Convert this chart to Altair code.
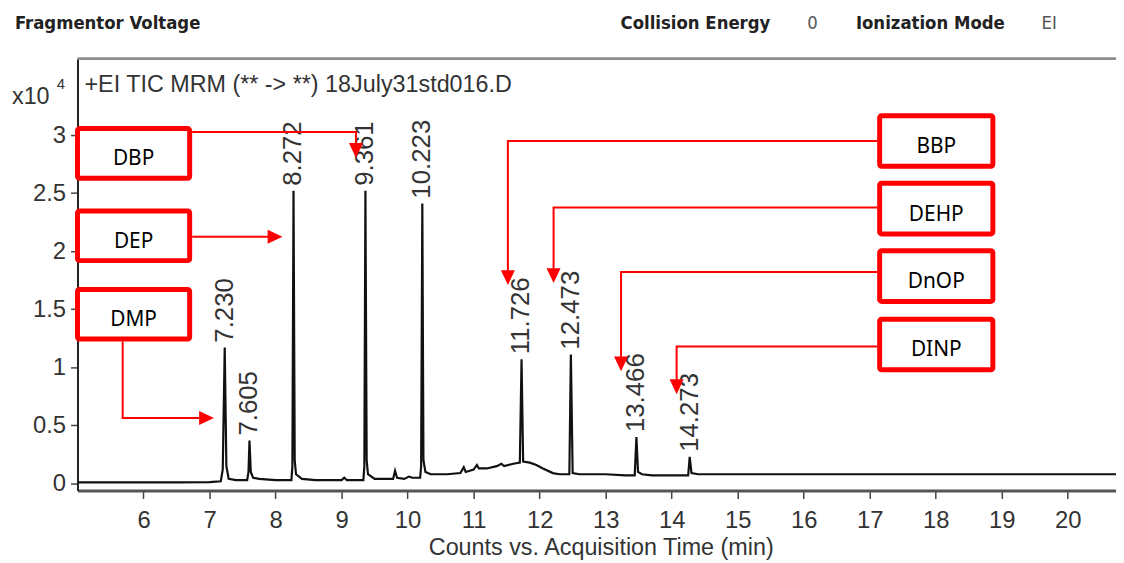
import altair as alt
import pandas as pd

# ---------------- data ----------------
# chromatogram trace: retention time (min) and counts (x10^4)
trace_time = [5.00, 5.50, 6.00, 6.50, 7.00, 7.17, 7.20, 7.23, 7.255, 7.29, 7.40, 7.57, 7.59,
              7.605, 7.625, 7.66, 7.75, 8.00, 8.24, 8.255, 8.272, 8.29, 8.31, 8.40, 8.60,
              9.00, 9.04, 9.08, 9.33, 9.345, 9.361, 9.38, 9.40, 9.50, 9.78, 9.81, 9.84,
              9.95, 10.02, 10.07, 10.19, 10.205, 10.223, 10.24, 10.27, 10.35, 10.60, 10.80,
              10.85, 10.88, 11.00, 11.05, 11.08, 11.20, 11.35, 11.42, 11.46, 11.60, 11.70,
              11.726, 11.75, 11.85, 11.95, 12.05, 12.20, 12.30, 12.45, 12.473, 12.50, 12.60,
              13.00, 13.30, 13.44, 13.466, 13.49, 13.55, 13.70, 14.00, 14.25, 14.273, 14.30,
              14.40, 15.00, 16.00, 17.00, 18.00, 19.00, 20.00, 20.73]
trace_counts = [0.010, 0.010, 0.010, 0.010, 0.012, 0.02, 0.12, 1.17, 0.15, 0.04, 0.03, 0.03, 0.10,
                0.37, 0.10, 0.05, 0.04, 0.03, 0.03, 0.15, 2.52, 0.20, 0.08, 0.04, 0.03,
                0.03, 0.05, 0.03, 0.03, 0.15, 2.52, 0.20, 0.08, 0.04, 0.04, 0.11, 0.05,
                0.04, 0.06, 0.05, 0.05, 0.15, 2.41, 0.20, 0.10, 0.08, 0.08, 0.09,
                0.14, 0.10, 0.12, 0.16, 0.13, 0.13, 0.15, 0.17, 0.15, 0.17, 0.18,
                1.07, 0.19, 0.18, 0.16, 0.13, 0.09, 0.08, 0.08, 1.11, 0.09, 0.08,
                0.08, 0.07, 0.07, 0.40, 0.10, 0.08, 0.07, 0.07, 0.07, 0.23, 0.09,
                0.08, 0.08, 0.08, 0.08, 0.08, 0.08, 0.08, 0.08]

# labelled peaks
peak_time = [7.230, 7.605, 8.272, 9.361, 10.223, 11.726, 12.473, 13.466, 14.273]
peak_height = [1.17, 0.37, 2.52, 2.52, 2.41, 1.07, 1.11, 0.40, 0.23]
peak_label = ["7.230", "7.605", "8.272", "9.361", "10.223", "11.726", "12.473", "13.466", "14.273"]

# callout boxes (data units)
compound = ["DBP", "DEP", "DMP", "BBP", "DEHP", "DnOP", "DINP"]
box_left = [5.0, 5.0, 5.0, 17.15, 17.15, 17.15, 17.15]
box_right = [6.699, 6.699, 6.699, 18.865, 18.865, 18.865, 18.865]
box_top = [3.056, 2.346, 1.671, 3.167, 2.585, 2.004, 1.415]
box_bottom = [2.628, 1.919, 1.244, 2.731, 2.149, 1.568, 0.979]

# callout arrow paths (data units)
arrow_id = ["DBP", "DBP", "DBP", "DEP", "DEP", "DMP", "DMP", "DMP",
            "BBP", "BBP", "BBP", "DEHP", "DEHP", "DEHP", "DnOP", "DnOP", "DnOP",
            "DINP", "DINP", "DINP"]
arrow_x = [6.737, 9.218, 9.218, 6.737, 7.895, 5.684, 5.684, 6.842,
           17.113, 11.519, 11.519, 17.113, 12.211, 12.211, 17.113, 13.233, 13.233,
           17.113, 14.075, 14.075]
arrow_y = [3.026, 3.026, 2.923, 2.124, 2.124, 1.222, 0.564, 0.564,
           2.949, 2.949, 1.829, 2.376, 2.376, 1.846, 1.821, 1.821, 1.085,
           1.179, 1.179, 0.889]
head_x = [9.218, 8.105, 7.068, 11.519, 12.211, 13.233, 14.075]
head_y = [2.803, 2.124, 0.564, 1.709, 1.726, 0.966, 0.769]
head_dir = ["down", "right", "right", "down", "down", "down", "down"]

x_ticks = list(range(6, 21))
y_ticks = [0, 0.5, 1, 1.5, 2, 2.5, 3]

header_text = ["Fragmentor Voltage", "Collision Energy", "0", "Ionization Mode", "EI"]
header_bold = [True, True, False, True, False]

# ---------------- tables ----------------
trace_df = pd.DataFrame({"t": trace_time, "v": trace_counts})
peak_df = pd.DataFrame({"t": peak_time, "v": peak_height, "lab": peak_label})
box_df = pd.DataFrame({"name": compound, "t": box_left, "t2": box_right,
                       "v": box_top, "v2": box_bottom})
box_df["tc"] = (box_df["t"] + box_df["t2"]) / 2
box_df["vc"] = (box_df["v"] + box_df["v2"]) / 2
arrow_df = pd.DataFrame({"id": arrow_id, "t": arrow_x, "v": arrow_y})
arrow_df["seq"] = arrow_df.groupby("id").cumcount()
head_df = pd.DataFrame({"t": head_x, "v": head_y, "dir": head_dir})

# ---------------- layout ----------------
W, H = 1046, 435
XS = alt.Scale(domain=[5, 20.73], nice=False, zero=False)
YS = alt.Scale(domain=[-0.06, 3.658], nice=False, zero=False)
FONT = "Liberation Sans"
BOLD_FONT = "DejaVu Sans Condensed, Liberation Sans Narrow, DejaVu Sans"
RED = "#ff0000"

x_axis = alt.Axis(values=x_ticks, format="d", title="Counts vs. Acquisition Time (min)",
                  labelFont=FONT, labelFontSize=24, labelColor="#333", labelFlush=False,
                  labelOverlap=False, tickSize=8, tickWidth=1.5, tickColor="#444",
                  labelPadding=10, domainColor="#555", domainWidth=3, grid=False,
                  titleFont=FONT, titleFontSize=23.5, titleFontWeight="normal",
                  titleColor="#333", titleBaseline="alphabetic", titleY=64, titleX=527)
y_axis = alt.Axis(values=y_ticks, format="~g", title=None,
                  labelFont=FONT, labelFontSize=24, labelColor="#333", labelFlush=False,
                  labelOverlap=False, tickSize=7, tickWidth=1.5, tickColor="#444",
                  labelPadding=5, domainColor="#222", domainWidth=2, grid=False)

trace = alt.Chart(trace_df).mark_line(color="#111", strokeWidth=2.2).encode(
    x=alt.X("t:Q", scale=XS, axis=x_axis),
    y=alt.Y("v:Q", scale=YS, axis=y_axis),
)

top_border = alt.Chart(alt.Data(values=[{"a": 1}])).mark_rule(
    color="#8c8c8c", strokeWidth=3).encode(
    x=alt.value(0), x2=alt.value(W), y=alt.value(0))

peak_labels = alt.Chart(peak_df).mark_text(
    angle=270, align="left", baseline="middle", dx=5, font=FONT, fontSize=26,
    color="#333").encode(
    x=alt.X("t:Q", scale=XS), y=alt.Y("v:Q", scale=YS), text="lab:N")

arrows = alt.Chart(arrow_df).mark_line(color=RED, strokeWidth=2, clip=False).encode(
    x=alt.X("t:Q", scale=XS), y=alt.Y("v:Q", scale=YS),
    detail="id:N", order="seq:O")

heads = alt.Chart(head_df).mark_point(filled=True, opacity=1, color=RED, size=900,
                                      strokeWidth=0, clip=False).encode(
    x=alt.X("t:Q", scale=XS), y=alt.Y("v:Q", scale=YS),
    shape=alt.Shape("dir:N", legend=None,
                    scale=alt.Scale(domain=["down", "right"],
                                    range=["M0,0L-0.47,-1L0.47,-1Z",
                                           "M0,0L-1,-0.47L-1,0.47Z"])))

boxes = alt.Chart(box_df).mark_rect(fill="white", stroke=RED, strokeWidth=5,
                                    cornerRadius=2, clip=False).encode(
    x=alt.X("t:Q", scale=XS), x2="t2:Q",
    y=alt.Y("v:Q", scale=YS), y2="v2:Q")

box_text = alt.Chart(box_df).mark_text(font="Noto Sans", fontSize=21, color="#000",
                                       dy=6, clip=False).encode(
    x=alt.X("tc:Q", scale=XS), y=alt.Y("vc:Q", scale=YS), text="name:N")


def free_text(txt, x, y, **kw):
    return alt.Chart(alt.Data(values=[{"s": txt}])).mark_text(
        align="left", baseline="alphabetic", **kw).encode(
        x=alt.value(x), y=alt.value(y), text="s:N")


header_x = [-63, 547, 735, 784, 971]
header_layers = []
for txt, bold, hx in zip(header_text, header_bold, header_x):
    if bold:
        header_layers.append(free_text(txt, hx, -30, font=BOLD_FONT, fontSize=18.5,
                                       fontWeight="bold", color="#222"))
    else:
        header_layers.append(free_text(txt, hx, -30, font=BOLD_FONT, fontSize=18.5,
                                       color="#555"))

title_txt = free_text("+EI TIC MRM (** -> **) 18July31std016.D", 7, 34,
                      font=FONT, fontSize=23.5, color="#333")
x10 = free_text("x10", -66, 46, font=FONT, fontSize=23.5, color="#333")
sup4 = free_text("4", -21, 31, font=FONT, fontSize=15, color="#333")

chart = alt.layer(
    trace, top_border, peak_labels, arrows, heads, boxes, box_text,
    title_txt, x10, sup4, *header_layers
).properties(
    width=W, height=H,
    padding={"left": 70, "top": 49, "right": 0, "bottom": 68},
    autosize=alt.AutoSizeParams(type="none"),
).configure_view(stroke=None)

chart.save("out.html", embed_options={"renderer": "svg", "actions": False})
